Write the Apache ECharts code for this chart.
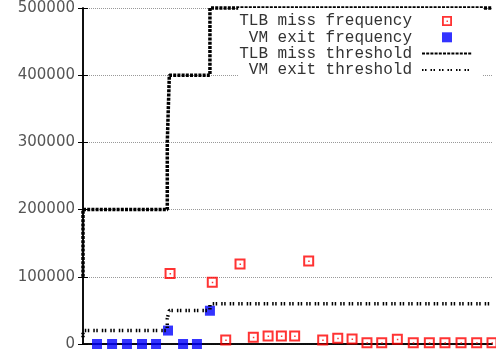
<!DOCTYPE html>
<html>
<head>
<meta charset="utf-8">
<script src="https://cdn.jsdelivr.net/npm/echarts@6/dist/echarts.min.js"></script>
<style>
html,body{margin:0;padding:0;background:#fff;}
#chart{width:496px;height:358px;}
</style>
</head>
<body>
<div id="chart"></div>
<script>
// ---- data ----
const seriesNames = ['TLB miss frequency', 'VM exit frequency', 'TLB miss threshold', 'VM exit threshold'];

const tlbFreqX = [5.96, 8.85, 9.77, 10.75, 11.66, 12.67, 13.58, 14.49, 15.45, 16.41, 17.44, 18.42, 19.44, 20.45, 21.52, 22.61, 23.71, 24.78, 25.88, 26.95, 28.0];
const tlbFreqY = [105000, 91800, 6000, 119000, 10000, 12000, 12000, 12000, 123500, 6000, 8500, 7500, 2000, 2000, 7000, 2000, 2000, 2000, 2000, 2000, 2000];

const vmFreqX = [0.96, 1.99, 3.01, 4.04, 5.0, 5.82, 6.85, 7.8, 8.69];
const vmFreqY = [0, 0, 0, 0, 0, 20000, 0, 0, 49500];

const tlbThrX = [0, 0, 5.77, 5.77, 5.91, 8.69, 8.69, 28];
const tlbThrY = [100000, 200000, 200000, 300000, 400000, 400000, 500000, 500000];

const vmThrX = [0, 0, 5.77, 5.77, 5.91, 8.69, 8.69, 28];
const vmThrY = [10000, 20000, 20000, 38000, 50000, 50000, 60000, 60000];

const yTicks = [0, 100000, 200000, 300000, 400000, 500000];

const zip = (xs, ys) => xs.map((x, i) => [x, ys[i]]);

const hollowSquare = 'path://M0,0 H11 V11 H0 Z M2,2 V9 H9 V2 Z M5,5 H6.5 V6.5 H5 Z';
const solidSquare = 'path://M0,0 H10 V10 H0 Z';

const chart = echarts.init(document.getElementById('chart'), null, {renderer: 'canvas'});
const axisBlack = {show: true, lineStyle: {color: '#000', width: 1.5}};
const noSymbol = {color: 'rgba(0,0,0,0)', borderWidth: 0, opacity: 0};
chart.setOption({
  animation: false,
  backgroundColor: '#fff',
  grid: {left: 83, right: 4, top: 8, bottom: 14},
  xAxis: [
    {type: 'value', min: 0, max: 28, position: 'bottom',
     axisLine: axisBlack, axisTick: {show: false}, axisLabel: {show: false}, splitLine: {show: false}},
    {type: 'value', min: 0, max: 28, position: 'top',
     axisLine: axisBlack, axisTick: {show: false}, axisLabel: {show: false}, splitLine: {show: false}}
  ],
  yAxis: [
    {type: 'value', min: yTicks[0], max: yTicks[yTicks.length - 1], interval: yTicks[1] - yTicks[0], position: 'left',
     axisLine: axisBlack,
     axisTick: {show: true, inside: true, length: 5, lineStyle: {color: '#000', width: 1}},
     axisLabel: {margin: 8, color: '#555', fontFamily: 'DejaVu Sans', fontSize: 15, formatter: v => String(v)},
     splitLine: {show: true, lineStyle: {color: '#999', width: 1, type: [1, 1]}}},
    {type: 'value', min: yTicks[0], max: yTicks[yTicks.length - 1], interval: yTicks[1] - yTicks[0], position: 'right',
     axisLine: axisBlack,
     axisTick: {show: true, inside: true, length: 5, lineStyle: {color: '#000', width: 1}},
     axisLabel: {show: false}, splitLine: {show: false}}
  ],
  legend: {
    orient: 'vertical', align: 'right',
    right: 13, top: 8,
    padding: [5, 10, 2, 1],
    itemWidth: 50, itemHeight: 10, itemGap: 0.3,
    backgroundColor: '#fff',
    textStyle: {fontFamily: 'Liberation Mono', fontSize: 16, color: '#333', lineHeight: 16, padding: [0, 5, 0, 0]},
    formatter: name => name.padStart(18, ' '),
    data: [
      {name: seriesNames[0], icon: hollowSquare},
      {name: seriesNames[1], icon: solidSquare},
      {name: seriesNames[2], itemStyle: noSymbol},
      {name: seriesNames[3], itemStyle: noSymbol}
    ]
  },
  series: [
    {name: seriesNames[0], type: 'scatter', symbol: hollowSquare, symbolSize: 11,
     itemStyle: {color: '#ff0000'}, data: zip(tlbFreqX, tlbFreqY)},
    {name: seriesNames[1], type: 'scatter', symbol: solidSquare, symbolSize: 10,
     itemStyle: {color: '#0000ff'}, data: zip(vmFreqX, vmFreqY)},
    {name: seriesNames[2], type: 'line', symbol: 'none', clip: false,
     itemStyle: {color: '#000'},
     lineStyle: {color: '#000', width: 3.5, type: [3, 1.2]}, data: zip(tlbThrX, tlbThrY)},
    {name: seriesNames[3], type: 'line', symbol: 'none', clip: false,
     itemStyle: {color: '#000'},
     lineStyle: {color: '#000', width: 3.5, type: [1.5, 1.5, 1.5, 4]}, data: zip(vmThrX, vmThrY)}
  ]
});
</script>
</body>
</html>
